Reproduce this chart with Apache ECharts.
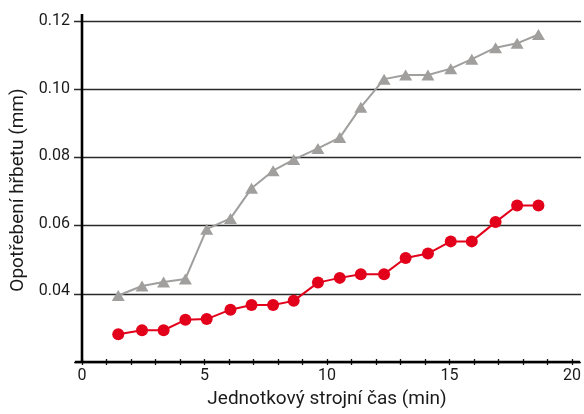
<!DOCTYPE html>
<html>
<head>
<meta charset="utf-8">
<script src="https://cdn.jsdelivr.net/npm/echarts@6/dist/echarts.min.js"></script>
<style>html,body{margin:0;padding:0;background:#fff;}#c{width:584px;height:414px;}</style>
</head>
<body>
<div id="c"></div>
<script>
const timeMin = [1.48, 2.45, 3.33, 4.22, 5.09, 6.06, 6.92, 7.80, 8.64, 9.63, 10.52, 11.38, 12.33, 13.21, 14.12, 15.05, 15.91, 16.88, 17.76, 18.63];
const wearGray = [0.0388, 0.0416, 0.0428, 0.0437, 0.0584, 0.0616, 0.0705, 0.0757, 0.0790, 0.0823, 0.0855, 0.0945, 0.1028, 0.1040, 0.1040, 0.1059, 0.1087, 0.1121, 0.1134, 0.1160];
const wearRed = [0.0273, 0.0285, 0.0285, 0.0316, 0.0318, 0.0346, 0.0360, 0.0360, 0.0372, 0.0426, 0.0440, 0.0451, 0.0451, 0.0499, 0.0512, 0.0548, 0.0548, 0.0605, 0.0654, 0.0654];
const xTitle = 'Jednotkový strojní čas (min)';
const yTitle = 'Opotřebení hřbetu (mm)';

const font = 'Roboto';
const chart = echarts.init(document.getElementById('c'), null, {renderer: 'canvas'});
chart.setOption({
  animation: false,
  backgroundColor: '#fff',
  grid: [
    {left: 82, right: 10, top: 21, bottom: 52},
    {left: 74, right: 3, top: 21, bottom: 52}
  ],
  xAxis: [
    {
      type: 'value', gridIndex: 0, min: 0, max: 20, interval: 1,
      name: xTitle, nameLocation: 'middle', nameGap: 31,
      nameTextStyle: {fontFamily: font, fontSize: 19, color: '#1a1a1a'},
      axisLine: {show: false},
      axisTick: {show: true, length: 6, lineStyle: {color: '#111', width: 1.3}},
      axisLabel: {margin: 9, fontFamily: font, fontSize: 16, color: '#1a1a1a',
        formatter: v => (Math.round(v) % 5 === 0 ? String(Math.round(v)) : '')},
      splitLine: {show: false}
    },
    {type: 'value', gridIndex: 1, min: 0, max: 1, show: false}
  ],
  yAxis: [
    {
      type: 'value', gridIndex: 0, min: 0.02, max: 0.12, interval: 0.02,
      name: yTitle, nameLocation: 'middle', nameGap: 50,
      nameTextStyle: {fontFamily: font, fontSize: 19, color: '#1a1a1a'},
      axisLine: {show: false},
      axisTick: {show: false},
      axisLabel: {margin: 12, fontFamily: font, fontSize: 16, color: '#1a1a1a',
        formatter: v => (v < 0.03 ? '' : v.toFixed(2))},
      splitLine: {show: false}
    },
    {
      type: 'value', gridIndex: 1, min: 0.02, max: 0.12, interval: 0.02,
      axisLine: {show: false}, axisTick: {show: false}, axisLabel: {show: false},
      splitLine: {show: true, lineStyle: {color: '#2a2a2a', width: 1.3}}
    }
  ],
  graphic: [
    {type: 'line', shape: {x1: 82, y1: 14, x2: 82, y2: 362}, style: {stroke: '#000', lineWidth: 2.6}, z: 100},
    {type: 'line', shape: {x1: 75, y1: 362, x2: 580, y2: 362}, style: {stroke: '#000', lineWidth: 2.6}, z: 100}
  ],
  series: [
    {
      type: 'line', xAxisIndex: 0, yAxisIndex: 0,
      data: timeMin.map((t, i) => [t, wearGray[i]]),
      symbol: 'triangle', symbolSize: [13, 11],
      lineStyle: {color: '#a09f9e', width: 2},
      itemStyle: {color: '#a09f9e'},
      z: 3
    },
    {
      type: 'line', xAxisIndex: 0, yAxisIndex: 0,
      data: timeMin.map((t, i) => [t, wearRed[i]]),
      symbol: 'circle', symbolSize: 12,
      lineStyle: {color: '#e2001a', width: 2},
      itemStyle: {color: '#e2001a'},
      z: 4
    }
  ]
});
</script>
</body>
</html>
